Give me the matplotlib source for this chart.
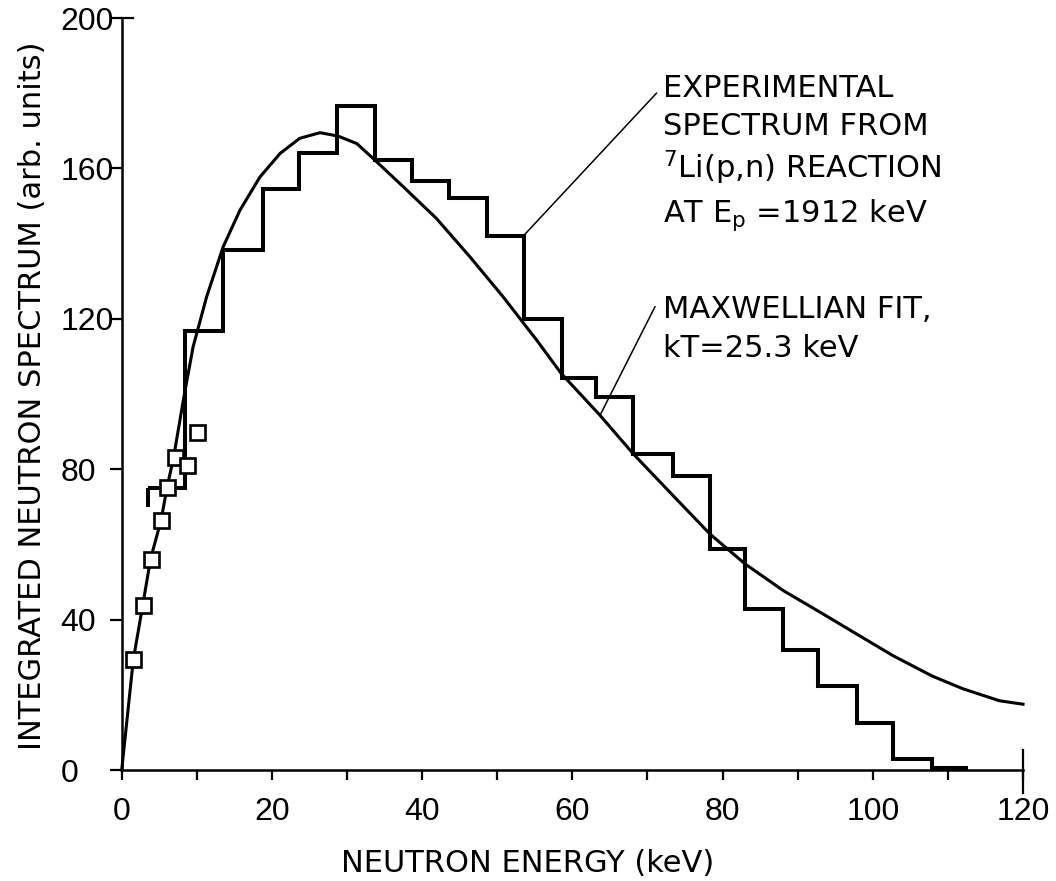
import matplotlib
matplotlib.use("Agg")
import matplotlib.pyplot as plt
from matplotlib.transforms import blended_transform_factory

# ---- data ----
# experimental histogram (bin edges in keV, integrated spectrum per bin)
hist_edges = [3.5, 8.4, 13.5, 18.8, 23.6, 28.6, 33.7, 38.7, 43.6, 48.6, 53.6,
              58.6, 63.2, 68.1, 73.4, 78.3, 83.0, 88.1, 92.7, 97.9, 102.7,
              107.9, 112.7]
hist_values = [75.0, 116.8, 138.3, 154.4, 164.0, 176.6, 162.3, 156.7, 152.1,
               142.0, 119.9, 104.2, 99.2, 84.1, 78.3, 58.8, 42.8, 31.9, 22.4,
               12.6, 2.8, 0.6]
hist_start_level = 70.0

# Maxwellian fit curve, kT = 25.3 keV
fit_energy = [0, 1.55, 2.8, 3.85, 5.25, 6.05, 6.9, 8.2, 9.5, 11.3, 13.5, 15.75,
              18.4, 21.1, 23.7, 26.4, 28.8, 31.3, 33.5, 37.5, 41.9, 46.4, 50.8,
              55.3, 58.5, 63.7, 68.1, 73.4, 78.3, 83.0, 88.1, 92.7, 97.9,
              102.7, 107.9, 112.0, 116.9, 120.0]
fit_values = [0, 29.4, 43.8, 56.2, 66.5, 75.3, 83.0, 98.3, 112.5, 125.8, 139.1,
              148.9, 157.7, 164.0, 168.0, 169.5, 168.6, 166.6, 162.6, 155.1,
              146.7, 136.4, 125.8, 114.2, 105.5, 94.3, 84.1, 73.0, 62.8, 54.8,
              47.7, 42.3, 36.1, 30.4, 25.0, 21.6, 18.4, 17.5]

# low-energy data points (squares)
sq_energy = [1.55, 2.8, 3.85, 5.25, 6.05, 7.1, 8.75, 10.0]
sq_values = [29.4, 43.8, 56.2, 66.5, 75.3, 83.2, 81.0, 89.8]

x_major = [0, 20, 40, 60, 80, 100, 120]
x_minor = [10, 30, 50, 70, 90, 110]
y_ticks = [0, 40, 80, 120, 160, 200]

# ---- figure ----
W, H = 1056, 881
fig = plt.figure(figsize=(W / 100, H / 100), dpi=100)
ax = fig.add_axes([121.7 / W, (H - 770) / H, 901.3 / W, 752 / H])

text_font = ["DejaVu Sans"]
tick_font = ["Liberation Sans Narrow", "Liberation Sans", "DejaVu Sans"]
TXT = 22

# histogram
ax.stairs(hist_values, hist_edges, baseline=None, color="black", lw=2.9,
          clip_on=False, zorder=3)
ax.plot([hist_edges[0], hist_edges[0]], [hist_start_level, hist_values[0]],
        color="black", lw=2.9, solid_capstyle="butt", zorder=3)

# Maxwellian fit
ax.plot(fit_energy, fit_values, color="black", lw=2.2, solid_joinstyle="round",
        zorder=4, clip_on=False)

# squares
ax.plot(sq_energy, sq_values, ls="none", marker="s", ms=10.8, mfc="white",
        mec="black", mew=1.9, zorder=5)

# axes styling
ax.set_xlim(0, 120)
ax.set_ylim(0, 200)
for s in ("top", "right"):
    ax.spines[s].set_visible(False)
for s in ("left", "bottom"):
    ax.spines[s].set_linewidth(1.8)

ax.set_xticks(x_major)
ax.set_xticks(x_minor, minor=True)
ax.set_xticklabels([str(v) for v in x_major], family=tick_font, fontsize=23)
ax.tick_params(axis="x", which="both", direction="out", length=7.2, width=1.6,
               pad=12)

ax.set_yticks(y_ticks)
ax.set_yticklabels([str(v) for v in y_ticks], family=tick_font, fontsize=23,
                   ha="left")
ax.tick_params(axis="y", direction="out", length=8.6, width=1.6, pad=35.5)

# crossing tick at x = 120 and small inward tick at y = 200
tb = blended_transform_factory(ax.transData, ax.transAxes)
ax.plot([120, 120], [-0.030, 0.027], transform=tb, color="black", lw=1.6,
        clip_on=False)
tl = blended_transform_factory(ax.transAxes, ax.transData)
ax.plot([0, 0.012], [200, 200], transform=tl, color="black", lw=1.6,
        clip_on=False)

# axis labels
fig.text(528 / W, 1 - 863 / H, "NEUTRON ENERGY (keV)", ha="center",
         va="center", family=text_font, fontsize=TXT)
fig.text(33 / W, 1 - 396 / H, "INTEGRATED NEUTRON SPECTRUM (arb. units)",
         ha="center", va="center", rotation=90, family=text_font, fontsize=TXT)

# annotations
ann_x = 72.1
lines1 = ["EXPERIMENTAL", "SPECTRUM FROM", r"$^{7}$Li(p,n) REACTION",
          r"AT E$_{\mathrm{p}}$ =1912 keV"]
ys1 = [179.1, 168.9, 157.4, 145.8]
for t, y in zip(lines1, ys1):
    ax.text(ann_x, y, t, ha="left", va="baseline", family=text_font,
            fontsize=TXT)
lines2 = ["MAXWELLIAN FIT,", "kT=25.3 keV"]
ys2 = [120.1, 109.9]
for t, y in zip(lines2, ys2):
    ax.text(ann_x, y, t, ha="left", va="baseline", family=text_font,
            fontsize=TXT)

# leader lines
ax.plot([71.2, 53.6], [180.0, 142.3], color="black", lw=1.1)
ax.plot([71.0, 63.7], [123.2, 94.4], color="black", lw=1.1)

fig.savefig("out.png", dpi=100)
